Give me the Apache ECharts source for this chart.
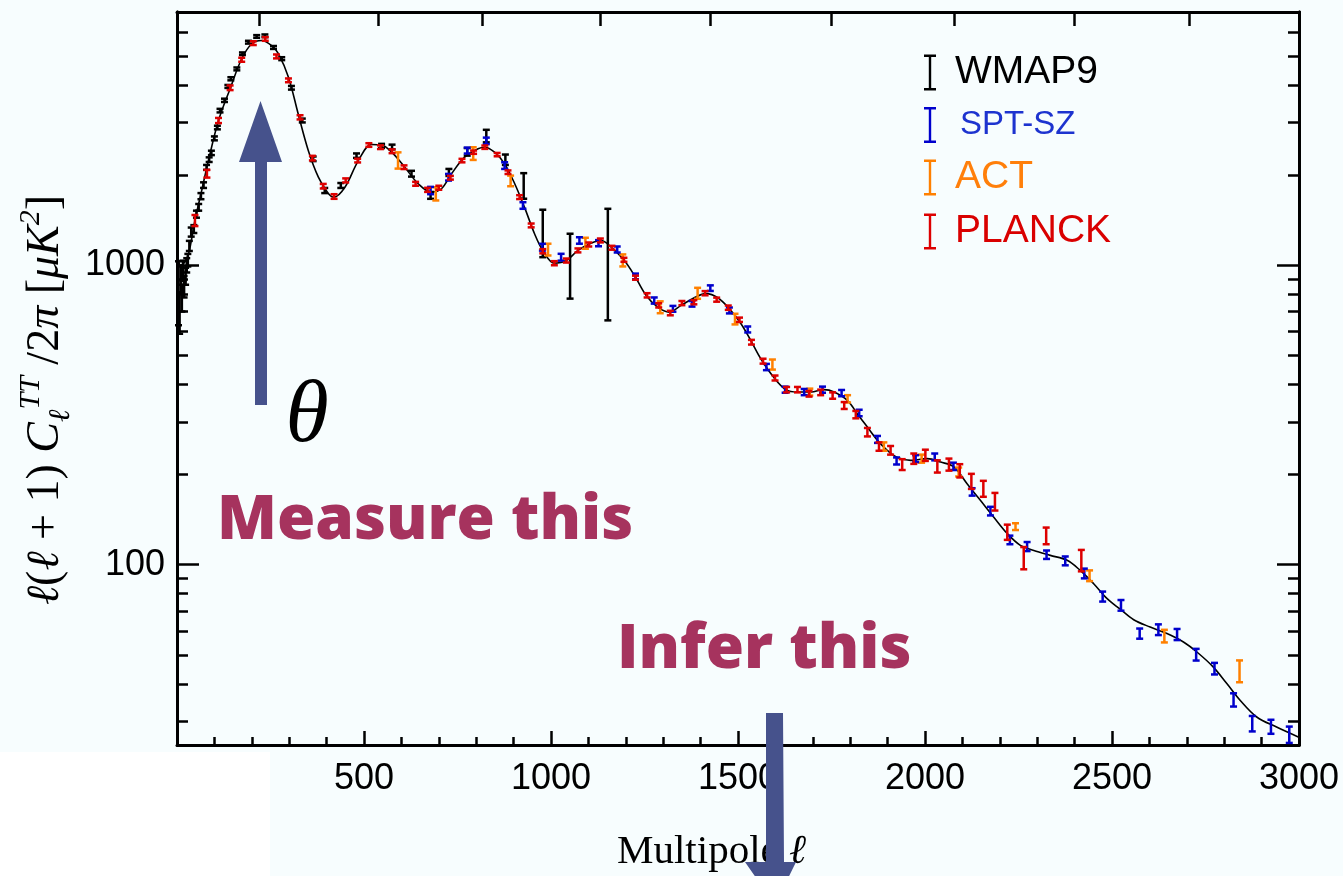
<!DOCTYPE html>
<html>
<head>
<meta charset="utf-8">
<title>CMB TT spectrum</title>
<script src="https://cdn.jsdelivr.net/npm/echarts@6/dist/echarts.min.js"></script>
<style>
  html, body { margin: 0; padding: 0; background: #f7fdfe; }
  #chart { width: 1343px; height: 876px; }
</style>
</head>
<body>
<div id="chart"></div>
<script>
// data: [multipole l, D_l in uK^2, error]
var wmap = [
  [4, 830, 200], [7, 700, 110], [10, 900, 90], [13, 780, 80], [16, 960, 75], [19, 850, 70],
  [23, 920, 60], [26, 1000, 55], [29, 1040, 50], [33, 1160, 45], [38, 1290, 45], [45, 1320, 40],
  [52, 1480, 40], [58, 1560, 40], [64, 1700, 40], [71, 1850, 40], [79, 2120, 40], [86, 2250, 40],
  [92, 2370, 40], [100, 2650, 40], [108, 2880, 40], [115, 3280, 45], [127, 3550, 45], [136, 3950, 45],
  [144, 4190, 50], [160, 4520, 50], [175, 5080, 50], [191, 5550, 60], [213, 5800, 60], [235, 5830, 60],
  [258, 5330, 60], [280, 4890, 55], [306, 3910, 55], [335, 3040, 45], [364, 2265, 40], [395, 1775, 35],
  [438, 1845, 35], [480, 2320, 40], [547, 2500, 40], [575, 2480, 45], [627, 2020, 45], [678, 1710, 45],
  [727, 2040, 55], [776, 2390, 70], [827, 2700, 130], [878, 2250, 90], [927, 1847, 181], [978, 1297, 234],
  [1051, 1023, 250], [1152, 1098, 444]
];
var spt = [
  [678, 1775, 50], [726, 1966, 50], [776, 2413, 55], [827, 2600, 65], [876, 2150, 55], [925, 1582, 40],
  [977, 1148, 30], [1027, 1063, 28], [1076, 1209, 30], [1127, 1184, 28], [1177, 1128, 26], [1226, 917, 20],
  [1276, 762, 18], [1326, 715, 16], [1377, 743, 16], [1426, 838, 18], [1477, 706, 16], [1526, 610, 14],
  [1576, 457, 11], [1626, 384, 9], [1677, 377, 9], [1726, 384, 9], [1777, 374, 9], [1824, 321, 8],
  [1873, 262, 7], [1924, 222, 6], [1975, 226, 6], [2026, 229, 6], [2076, 213, 6], [2126, 175, 5],
  [2175, 151, 5], [2227, 121, 4], [2273, 115, 4], [2325, 108, 3.5], [2375, 103, 3.5], [2426, 93.5, 3.5],
  [2475, 78.3, 3], [2524, 73.2, 3], [2574, 58.9, 2.3], [2624, 60.7, 2.5], [2674, 58.5, 2.5], [2725, 50.1, 2.25],
  [2774, 45, 2], [2825, 35.4, 1.8], [2875, 29.5, 1.75], [2925, 28.8, 1.55], [2974, 27.1, 1.7]
];
var act = [
  [591, 2240, 140], [692, 1732, 88], [792, 2360, 115], [892, 1912, 78], [992, 1128, 51], [1092, 1184, 50],
  [1192, 1038, 48], [1292, 724, 33], [1392, 806, 34], [1492, 661, 27], [1592, 466, 18], [1692, 377, 10],
  [1793, 358, 10], [1890, 248, 8], [1991, 226, 7], [2090, 204, 7], [2242, 134, 3.5], [2440, 91.9, 3.8],
  [2640, 57.8, 2.8], [2841, 44.2, 3.7]
];
var planck = [
  [48, 1410, 60], [80, 2020, 60], [111, 3040, 60], [142, 3910, 70], [173, 4850, 75], [204, 5510, 80],
  [236, 5690, 80], [266, 4975, 75], [298, 4140, 60], [329, 3115, 50], [362, 2277, 40], [391, 1835, 32],
  [420, 1695, 30], [451, 1918, 30], [483, 2234, 32], [513, 2518, 35], [544, 2476, 35], [575, 2400, 35],
  [607, 2123, 30], [638, 1869, 28], [670, 1784, 28], [700, 1813, 28], [731, 1958, 28], [762, 2234, 30],
  [793, 2383, 30], [823, 2476, 32], [856, 2339, 30], [885, 2043, 28], [916, 1687, 25], [947, 1357, 20],
  [978, 1113, 18], [1009, 1015, 16], [1041, 1036, 16], [1072, 1120, 17], [1101, 1172, 18], [1132, 1209, 18],
  [1163, 1143, 17], [1195, 1042, 16], [1226, 908, 14], [1257, 793, 13], [1288, 734, 12], [1319, 692, 12],
  [1350, 747, 12], [1382, 752, 12], [1412, 806, 13], [1443, 767, 12], [1474, 721, 12], [1504, 657, 11],
  [1536, 553, 10], [1567, 478, 9], [1599, 420, 8], [1630, 384, 8], [1659, 384, 8], [1690, 372, 8],
  [1721, 376, 8], [1753, 367, 9], [1784, 340, 9], [1815, 317, 9], [1846, 277, 9], [1877, 248, 8],
  [1908, 241, 8], [1939, 216, 9], [1970, 226, 9], [2001, 232, 10], [2033, 213, 10], [2064, 216, 10],
  [2093, 206, 10.5], [2124, 190, 11], [2156, 179.5, 11], [2187, 162.6, 11], [2220, 128.5, 7.5], [2264, 105.5, 9],
  [2324, 125, 8], [2418, 103.5, 8.5]
];
// best-fit theory curve
var theory = [
  [2, 1050], [10, 1000], [20, 1020], [31, 1091], [48, 1410], [66, 1774], [84, 2234], [111, 3040],
  [142, 3881], [173, 4886], [200, 5483], [226, 5623], [253, 5410], [271, 5080], [298, 4242], [324, 3200],
  [351, 2416], [378, 1968], [404, 1739], [420, 1687], [449, 1820], [485, 2234], [520, 2528], [547, 2518],
  [574, 2383], [609, 2123], [645, 1869], [680, 1753], [707, 1799], [734, 2019], [769, 2293], [805, 2447],
  [823, 2476], [849, 2383], [876, 2178], [903, 1869], [929, 1562], [956, 1273], [978, 1120], [1009, 1015],
  [1041, 1036], [1072, 1120], [1107, 1184], [1134, 1209], [1161, 1148], [1196, 1036], [1223, 924], [1254, 793],
  [1285, 724], [1316, 697], [1348, 734], [1383, 778], [1414, 803], [1446, 778], [1481, 706], [1508, 637],
  [1534, 561], [1561, 487], [1597, 420], [1628, 384], [1659, 377], [1695, 377], [1730, 384], [1757, 377],
  [1793, 353], [1819, 319], [1846, 288], [1873, 260], [1899, 241], [1926, 228], [1962, 223], [2006, 226],
  [2042, 220], [2077, 212], [2113, 186], [2148, 164], [2184, 144], [2220, 127], [2255, 116], [2291, 111.6],
  [2335, 107.4], [2380, 103.4], [2415, 95.7], [2451, 86.4], [2487, 77], [2522, 71], [2558, 65.5], [2602, 61.9],
  [2647, 58.9], [2691, 55.2], [2727, 51.1], [2771, 45.5], [2807, 40.1], [2843, 35.2], [2887, 31], [2940, 28.7],
  [2998, 26.6]
];

// tick values
var yMajorTicks = [100, 1000];
var yMinorTicks = [30, 40, 50, 60, 70, 80, 90, 200, 300, 400, 500, 600, 700, 800, 900, 2000, 3000, 4000, 5000, 6000];
var peakTicks = [220, 539, 815, 1131, 1425, 1748, 2077, 2400, 2706];

var colors = { WMAP9: '#000000', 'SPT-SZ': '#0000cc', ACT: '#ff8000', PLANCK: '#dd0000' };
var arrowColor = '#46528c';
var slideText = '#a6335e';
var barIcon = 'path://M0,0H12V2.5H7.2V33.5H12V36H0V33.5H4.8V2.5H0Z';

// error bar drawn with caps
function errorBars(color) {
  return function (params, api) {
    var l = api.value(0), v = api.value(1), e = api.value(2);
    var top = api.coord([l, v + e]);
    var bot = api.coord([l, v - e]);
    var w = 3.5;
    function seg(x1, y1, x2, y2) {
      return { type: 'line', shape: { x1: x1, y1: y1, x2: x2, y2: y2 }, style: { stroke: color, lineWidth: 2.5 } };
    }
    return {
      type: 'group',
      children: [
        seg(top[0], top[1], bot[0], bot[1]),
        seg(top[0] - w, top[1], top[0] + w, top[1]),
        seg(bot[0] - w, bot[1], bot[0] + w, bot[1])
      ]
    };
  };
}

function barSeries(name, data, z) {
  return {
    name: name,
    type: 'custom',
    renderItem: errorBars(colors[name]),
    itemStyle: { color: colors[name] },
    encode: { x: 0, y: 1 },
    data: data,
    z: z,
    animation: false
  };
}

var axisLineStyle = { color: '#000', width: 3 };
var tickStyle = { color: '#000', width: 2.5 };
var labelFont = { fontFamily: 'Liberation Sans', fontSize: 36, color: '#000' };

function logAxis(pos, ticks, len, labels) {
  return {
    type: 'log', logBase: 10, min: 25, max: 7000, position: pos,
    axisLine: { show: true, lineStyle: axisLineStyle },
    axisTick: { show: true, inside: true, length: len, lineStyle: tickStyle, customValues: ticks },
    axisLabel: labels ? Object.assign({
      show: true, margin: 12, customValues: yMajorTicks,
      formatter: function (v) { return String(Math.round(v)); }
    }, labelFont) : { show: false },
    splitLine: { show: false },
    minorTick: { show: false }
  };
}

var option = {
  backgroundColor: '#f7fdfe',
  animation: false,
  grid: { left: 177, right: 44, top: 12, bottom: 131, outerBoundsMode: 'none' },
  legend: {
    orient: 'vertical', left: 919, top: 48,
    itemWidth: 12, itemHeight: 36, itemGap: 15,
    icon: barIcon, selectedMode: false,
    textStyle: { fontFamily: 'Liberation Sans', lineHeight: 36, padding: [0, 0, 0, 14] },
    data: [
      { name: 'WMAP9', textStyle: { color: '#000000', fontSize: 39 } },
      { name: 'SPT-SZ', textStyle: { color: '#1d33cf', fontSize: 33, padding: [0, 0, 0, 19] } },
      { name: 'ACT', textStyle: { color: '#ff7f0a', fontSize: 39 } },
      { name: 'PLANCK', textStyle: { color: '#d90000', fontSize: 39 } }
    ]
  },
  xAxis: [
    {
      type: 'value', min: 0, max: 3000, interval: 500, position: 'bottom',
      axisLine: { show: true, lineStyle: axisLineStyle },
      axisTick: { show: true, inside: true, length: 14, lineStyle: tickStyle },
      minorTick: { show: true, splitNumber: 5, length: 8, lineStyle: tickStyle },
      axisLabel: Object.assign({
        margin: 16,
        formatter: function (v) { return v === 0 ? '' : String(v); }
      }, labelFont),
      splitLine: { show: false },
      minorSplitLine: { show: false }
    },
    {
      type: 'value', min: 0, max: 3000, position: 'top',
      axisLine: { show: true, lineStyle: axisLineStyle },
      axisTick: { show: true, inside: true, length: 14, lineStyle: tickStyle, customValues: peakTicks },
      axisLabel: { show: false },
      splitLine: { show: false }
    }
  ],
  yAxis: [
    logAxis('left', yMajorTicks, 22, true),
    logAxis('left', yMinorTicks, 11, false),
    logAxis('right', yMajorTicks, 22, false),
    logAxis('right', yMinorTicks, 11, false)
  ],
  series: [
    {
      name: 'theory', type: 'line', data: theory, smooth: 0.35, showSymbol: false,
      lineStyle: { color: '#000', width: 1.6 }, z: 1, silent: true
    },
    barSeries('WMAP9', wmap, 2),
    barSeries('ACT', act, 3),
    barSeries('SPT-SZ', spt, 4),
    barSeries('PLANCK', planck, 5)
  ],
  graphic: [
    // white strip bottom left
    { type: 'rect', z: -10, shape: { x: 0, y: 752, width: 270, height: 124 }, style: { fill: '#ffffff' } },
    // up arrow
    { type: 'polygon', z: 50, shape: { points: [[255, 405], [255, 162], [239, 162], [260.5, 101], [282, 162], [267, 162], [267, 405]] }, style: { fill: arrowColor } },
    { type: 'text', z: 50, x: 307, y: 418, style: { text: 'θ', font: 'italic 88px "Liberation Serif"', fill: '#000', align: 'center', verticalAlign: 'middle' } },
    { type: 'text', z: 50, x: 217, y: 521, style: { text: 'Measure this', font: '800 62px "Open Sans"', fill: slideText, verticalAlign: 'middle' } },
    { type: 'text', z: 50, x: 617, y: 650, style: { text: 'Infer this', font: '800 62px "Open Sans"', fill: slideText, verticalAlign: 'middle' } },
    // axis titles
    {
      type: 'text', z: 50, x: 46, y: 400, rotation: Math.PI / 2,
      style: {
        text: '{m|ℓ}{r|(}{m|ℓ}{r| + 1) }{m|C}{sub|ℓ}{sup|TT}{r| /2}{m|π}{r| [}{m|μK}{sup|2}{r|]}',
        align: 'center', verticalAlign: 'middle',
        rich: {
          r: { fontFamily: 'Liberation Serif', fontSize: 46, color: '#000', lineHeight: 60 },
          m: { fontFamily: 'Liberation Serif', fontStyle: 'italic', fontSize: 46, color: '#000', lineHeight: 60 },
          sup: { fontFamily: 'Liberation Serif', fontStyle: 'italic', fontSize: 30, color: '#000', verticalAlign: 'top', lineHeight: 60 },
          sub: { fontFamily: 'Liberation Serif', fontStyle: 'italic', fontSize: 30, color: '#000', verticalAlign: 'bottom', lineHeight: 60 }
        }
      }
    },
    {
      type: 'text', z: 50, x: 617, y: 852,
      style: {
        text: '{r|Multipole }{m|ℓ}', verticalAlign: 'middle',
        rich: {
          r: { fontFamily: 'Liberation Serif', fontSize: 41, color: '#000' },
          m: { fontFamily: 'Liberation Serif', fontStyle: 'italic', fontSize: 41, color: '#000' }
        }
      }
    },
    // down arrow over the axis
    { type: 'polygon', z: 60, shape: { points: [[766, 713], [783, 713], [784, 862], [796, 862], [775, 905], [745, 862], [766, 862]] }, style: { fill: arrowColor } }
  ]
};

var myChart = echarts.init(document.getElementById('chart'));
myChart.setOption(option);
</script>
</body>
</html>
